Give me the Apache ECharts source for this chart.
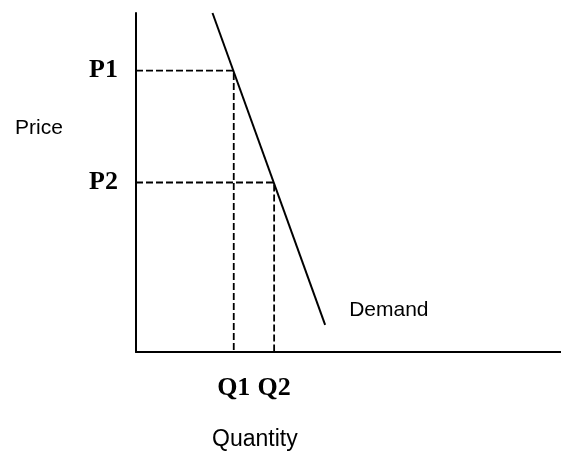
<!DOCTYPE html>
<html>
<head>
<meta charset="utf-8">
<script src="https://cdn.jsdelivr.net/npm/echarts@6/dist/echarts.min.js"></script>
<style>
  html, body { margin: 0; padding: 0; background: #fff; }
  #chart { width: 561px; height: 456px; }
</style>
</head>
<body>
<div id="chart"></div>
<script>
// demand curve end points (quantity, price)
var demandQ = [18, 44.5];
var demandP = [100, 8];
// marked levels on the axes
var priceLevels = [83, 50];
var priceNames = ['P1', 'P2'];
var quantityLevels = [23, 32.5];
var quantityNames = ['Q1', 'Q2'];

var chart = echarts.init(document.getElementById('chart'));

var serif = "'Liberation Serif', 'Times New Roman', serif";
var sans = "'Liberation Sans', Arial, sans-serif";

// dashed guides: from price axis across to the curve, then down to the quantity axis
var guides = priceLevels.map(function (p, i) {
    var q = quantityLevels[i];
    return {
        type: 'line',
        data: [[0, p], [q, p], [q, 0]],
        symbol: 'none',
        silent: true,
        lineStyle: { color: '#000', width: 1.8, type: [7, 3] }
    };
});

var option = {
    backgroundColor: '#fff',
    animation: false,
    grid: { left: 136, right: 0, top: 13, bottom: 104 },
    xAxis: {
        type: 'value',
        min: 0,
        max: 100,
        splitLine: { show: false },
        axisTick: { show: false },
        axisLine: { onZero: false, lineStyle: { color: '#000', width: 2 } },
        axisLabel: {
            customValues: quantityLevels,
            formatter: function (v) { return quantityNames[quantityLevels.indexOf(v)]; },
            margin: 23,
            color: '#000',
            fontFamily: serif,
            fontWeight: 'bold',
            fontSize: 26
        }
    },
    yAxis: {
        type: 'value',
        min: 0,
        max: 100,
        splitLine: { show: false },
        axisTick: { show: false },
        axisLine: { onZero: false, lineStyle: { color: '#000', width: 2 } },
        axisLabel: {
            customValues: priceLevels,
            formatter: function (v) { return priceNames[priceLevels.indexOf(v)]; },
            margin: 18,
            color: '#000',
            fontFamily: serif,
            fontWeight: 'bold',
            fontSize: 26,
            padding: [6, 0, 0, 0]
        }
    },
    graphic: [
        { type: 'text', left: 15, top: 118,
          style: { text: 'Price', fill: '#000', font: '21px ' + sans } },
        { type: 'text', left: 212, top: 428,
          style: { text: 'Quantity', fill: '#000', font: '23px ' + sans } }
    ],
    series: guides.concat([{
        type: 'line',
        data: demandQ.map(function (q, i) { return [q, demandP[i]]; }),
        symbol: 'none',
        silent: true,
        lineStyle: { color: '#000', width: 2 },
        endLabel: {
            show: true,
            formatter: 'Demand',
            offset: [16, -15],
            color: '#000',
            fontFamily: sans,
            fontSize: 21
        }
    }])
};

chart.setOption(option);
</script>
</body>
</html>
